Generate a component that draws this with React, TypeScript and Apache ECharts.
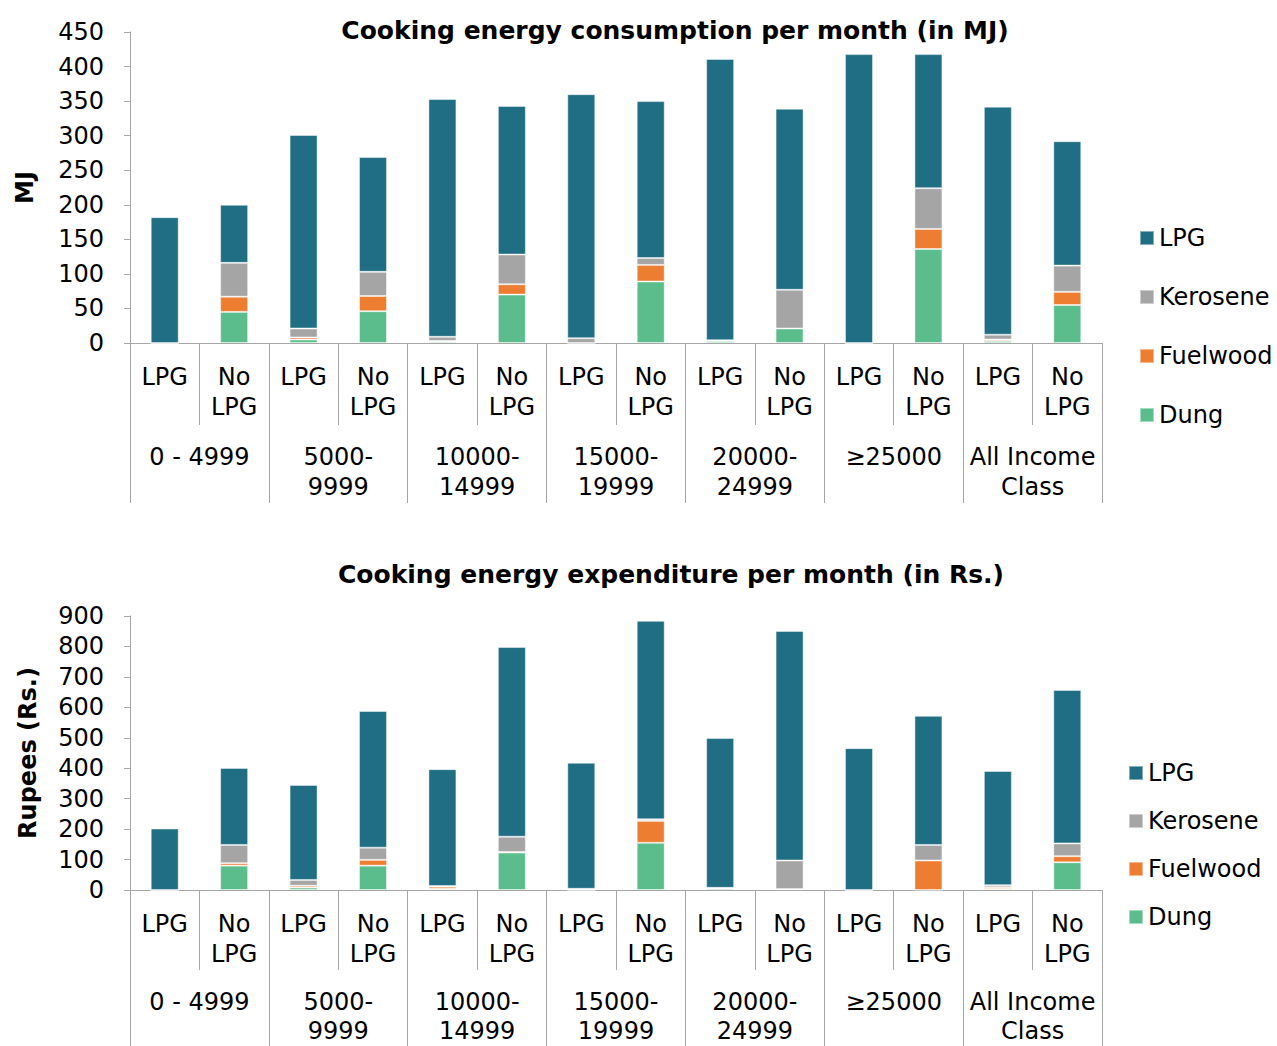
import React, { useEffect, useRef } from "react";
import * as echarts from "echarts";

const categories = ["LPG", "No LPG", "LPG", "No LPG", "LPG", "No LPG", "LPG", "No LPG", "LPG", "No LPG", "LPG", "No LPG", "LPG", "No LPG"];
const incomeGroups = ["0 - 4999", "5000-\n9999", "10000-\n14999", "15000-\n19999", "20000-\n24999", "≥25000", "All Income\nClass"];
const fuels = ["LPG", "Kerosene", "Fuelwood", "Dung"];

const mjLPG = [182, 84, 280, 166, 344, 215, 353, 227, 407, 262, 418, 194, 330, 180];
const mjKerosene = [0, 49, 13, 35, 6, 43, 7, 10, 1, 56, 0, 59, 7, 38];
const mjFuelwood = [0, 22, 3, 22, 1, 15, 0, 24, 0, 0, 0, 29, 2, 19];
const mjDung = [0, 45, 5, 46, 2, 70, 0, 89, 3, 21, 0, 136, 3, 55];

const rsLPG = [202, 253, 312, 449, 384, 623, 414, 652, 492, 754, 466, 424, 375, 504];
const rsKerosene = [0, 60, 19, 40, 2, 50, 3, 5, 2, 94, 0, 51, 7, 42];
const rsFuelwood = [0, 8, 6, 19, 7, 2, 1, 72, 0, 0, 0, 97, 5, 20];
const rsDung = [0, 80, 8, 80, 4, 123, 0, 155, 5, 3, 0, 0, 4, 91];

const titles = ["Cooking energy consumption per month (in MJ)", "Cooking energy expenditure per month (in Rs.)"];
const yNames = ["MJ", "Rupees (Rs.)"];

const COLORS: Record<string, string> = {
  LPG: "#1F6E83",
  Kerosene: "#A5A5A5",
  Fuelwood: "#ED7D31",
  Dung: "#5BBD8B",
};

const FONT = "DejaVu Sans";
const AXIS_COLOR = "#A6A6A6";

export default function App() {
  const ref = useRef<HTMLDivElement>(null);
  useEffect(() => {
    if (!ref.current) return;
    const chart = echarts.init(ref.current, undefined, { renderer: "svg" });

    const grids = [
      { left: 130, top: 32, width: 972, height: 311, containLabel: false, outerBoundsMode: "none" },
      { left: 130, top: 616, width: 972, height: 274, containLabel: false, outerBoundsMode: "none" },
    ];
    const tickLens = [
      [82, 160],
      [80, 160],
    ];
    const groupMargins = [99, 97];
    const groupLineHeights = [30, 29];

    const xAxis: any[] = [];
    const yAxis: any[] = [];
    [0, 1].forEach((g) => {
      xAxis.push({
        type: "category",
        gridIndex: g,
        position: "bottom",
        data: categories,
        axisLine: { show: true, lineStyle: { color: AXIS_COLOR, width: 1 } },
        axisTick: { show: true, interval: 0, length: tickLens[g][0], lineStyle: { color: AXIS_COLOR } },
        axisLabel: {
          interval: 0,
          margin: 19,
          color: "#000",
          fontFamily: FONT,
          fontSize: 24,
          lineHeight: 30,
          formatter: (v: string) => v.replace(" ", "\n"),
        },
      });
      xAxis.push({
        type: "category",
        gridIndex: g,
        position: "bottom",
        data: incomeGroups,
        axisLine: { show: false },
        axisTick: { show: true, interval: 0, length: tickLens[g][1], lineStyle: { color: AXIS_COLOR } },
        axisLabel: {
          interval: 0,
          margin: groupMargins[g],
          color: "#000",
          fontFamily: FONT,
          fontSize: 24,
          lineHeight: groupLineHeights[g],
        },
      });
      yAxis.push({
        type: "value",
        gridIndex: g,
        min: 0,
        max: g === 0 ? 450 : 900,
        interval: g === 0 ? 50 : 100,
        name: yNames[g],
        nameLocation: "middle",
        nameGap: g === 0 ? 93 : 90,
        nameRotate: 90,
        nameTextStyle: { color: "#000", fontFamily: FONT, fontSize: 24, fontWeight: "bold" },
        splitLine: { show: false },
        axisLine: { show: true, lineStyle: { color: AXIS_COLOR } },
        axisTick: { show: true, length: 6, lineStyle: { color: AXIS_COLOR } },
        axisLabel: { margin: 26, color: "#000", fontFamily: FONT, fontSize: 24 },
      });
    });

    const mjData: Record<string, number[]> = { LPG: mjLPG, Kerosene: mjKerosene, Fuelwood: mjFuelwood, Dung: mjDung };
    const rsData: Record<string, number[]> = { LPG: rsLPG, Kerosene: rsKerosene, Fuelwood: rsFuelwood, Dung: rsDung };
    const stackOrder = ["Dung", "Fuelwood", "Kerosene", "LPG"];
    const series: any[] = [];
    [mjData, rsData].forEach((d, g) => {
      stackOrder.forEach((name) => {
        series.push({
          type: "bar",
          name,
          xAxisIndex: g * 2,
          yAxisIndex: g,
          stack: "s" + g,
          barWidth: 28,
          data: d[name],
          itemStyle: { color: COLORS[name], borderColor: "rgba(255,255,255,0.45)", borderWidth: 1 },
          emphasis: { disabled: true },
        });
      });
    });

    const legendBase = {
      orient: "vertical",
      icon: "rect",
      itemWidth: 14,
      itemHeight: 14,
      data: fuels,
      selectedMode: false,
      textStyle: { color: "#000", fontFamily: FONT, fontSize: 24, lineHeight: 24 },
    };

    chart.setOption({
      animation: false,
      backgroundColor: "#fff",
      title: [
        {
          text: titles[0],
          left: 670,
          top: 13,
          textAlign: "center",
          textStyle: { color: "#000", fontFamily: FONT, fontSize: 25, fontWeight: "bold" },
        },
        {
          text: titles[1],
          left: 666,
          top: 557,
          textAlign: "center",
          textStyle: { color: "#000", fontFamily: FONT, fontSize: 25, fontWeight: "bold" },
        },
      ],
      legend: [
        { ...legendBase, left: 1134, top: 221, itemGap: 35 },
        { ...legendBase, left: 1123, top: 756, itemGap: 24 },
      ],
      grid: grids,
      xAxis,
      yAxis,
      series,
    });
    return () => chart.dispose();
  }, []);

  return <div ref={ref} style={{ width: 1277, height: 1046, position: "absolute", left: 0, top: 0 }} />;
}
